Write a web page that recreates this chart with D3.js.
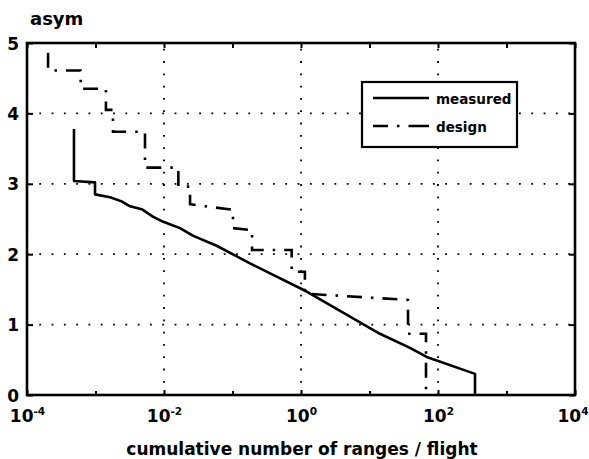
<!DOCTYPE html>
<html>
<head>
<meta charset="utf-8">
<script src="https://cdn.jsdelivr.net/npm/d3@7"></script>
<style>
  html, body { margin: 0; padding: 0; background: #fff; }
  svg { display: block; }
  text { font-family: "DejaVu Sans", sans-serif; font-weight: bold; fill: #000; }
</style>
</head>
<body>
<svg id="chart" width="589" height="459"></svg>
<script>
// Cumulative number of ranges per flight versus asymmetric load level
const xTickExps = [-4, -2, 0, 2, 4];          // labelled decades (10^e)
const xMinorExps = [-3, -1, 1, 3];            // unlabelled decade ticks
const yTicks = [0, 1, 2, 3, 4, 5];
const yGrid = [1, 2, 3, 4];

// measured spectrum (corner points of the trace)
const measuredX = [4.85e-4, 4.85e-4, 9.84e-4, 9.84e-4, 1.63e-3, 2.41e-3, 3.19e-3, 4.72e-3,
                   6.98e-3, 9.77e-3, 0.0171, 0.0268, 0.0587, 0.180, 1.21, 14.2, 39, 68.4, 347, 347];
const measuredY = [3.78, 3.04, 3.02, 2.85, 2.81, 2.75, 2.68, 2.64,
                   2.53, 2.46, 2.37, 2.26, 2.12, 1.87, 1.47, 0.87, 0.67, 0.54, 0.30, 0];

// design spectrum (stepped)
const designX = [2.03e-4, 2.03e-4, 6.08e-4, 6.08e-4, 1.42e-3, 1.42e-3, 1.80e-3, 1.80e-3,
                 5.28e-3, 5.28e-3, 0.0162, 0.0162, 0.024, 0.024, 0.1017, 0.1017, 0.193, 0.193,
                 0.731, 0.731, 1.14, 1.14, 36.5, 36.5, 66.8, 66.8];
const designY = [4.86, 4.61, 4.61, 4.35, 4.35, 4.05, 4.05, 3.74,
                 3.74, 3.23, 3.23, 2.96, 2.96, 2.71, 2.63, 2.37, 2.34, 2.06,
                 2.06, 1.75, 1.75, 1.44, 1.35, 0.87, 0.87, 0];

const legendLabels = ["measured", "design"];

const svg = d3.select("#chart");
const plotL = 27, plotR = 575, plotT = 43, plotB = 395;

const x = d3.scaleLog().domain([1e-4, 1e4]).range([plotL, plotR]);
const y = d3.scaleLinear().domain([0, 5]).range([plotB, plotT]);

// dotted grid
const grid = svg.append("g")
  .attr("stroke", "#000").attr("stroke-width", 1.8)
  .attr("stroke-dasharray", "1.8,10.5").attr("fill", "none");
grid.selectAll("line.gy").data(yGrid).join("line")
  .attr("x1", plotL).attr("x2", plotR)
  .attr("y1", d => y(d)).attr("y2", d => y(d));
grid.selectAll("line.gx").data(xTickExps.slice(1, -1)).join("line")
  .attr("y1", plotB).attr("y2", plotT)
  .attr("x1", d => x(Math.pow(10, d))).attr("x2", d => x(Math.pow(10, d)));

// axes with inward ticks
const allDecades = xTickExps.concat(xMinorExps).map(e => Math.pow(10, e));
const xAxis = d3.axisBottom(x).tickValues(xTickExps.map(e => Math.pow(10, e)))
  .tickSizeInner(-5).tickSizeOuter(0).tickPadding(14)
  .tickFormat(() => "10");
const gx = svg.append("g").attr("transform", `translate(0,${plotB})`).call(xAxis);
gx.select(".domain").remove();
gx.selectAll(".tick line").attr("stroke", "#000").attr("stroke-width", 2);
gx.selectAll(".tick text")
  .attr("font-size", 17).attr("font-family", "DejaVu Sans").attr("font-weight", "bold")
  .attr("dy", null).attr("y", 27)
  .each(function (d, i, nodes) {
    const e = Math.round(Math.log10(d));
    const t = d3.select(this);
    t.append("tspan").attr("dy", -7).attr("font-size", 10.5).text(e);
    // keep the last label inside the page
    if (i === nodes.length - 1) t.attr("text-anchor", "end").attr("x", 13);
  });

svg.append("g").attr("transform", `translate(0,${plotB})`)
  .call(d3.axisBottom(x).tickValues(xMinorExps.map(e => Math.pow(10, e)))
    .tickSizeInner(-4).tickSizeOuter(0).tickFormat(""))
  .call(g => g.select(".domain").remove())
  .selectAll(".tick line").attr("stroke", "#000").attr("stroke-width", 2);

svg.append("g").attr("transform", `translate(0,${plotT})`)
  .call(d3.axisTop(x).tickValues(allDecades).tickSizeInner(-5).tickSizeOuter(0).tickFormat(""))
  .call(g => g.select(".domain").remove())
  .selectAll(".tick line").attr("stroke", "#000").attr("stroke-width", 2);

const gy = svg.append("g").attr("transform", `translate(${plotL},0)`)
  .call(d3.axisLeft(y).tickValues(yTicks).tickSizeInner(-6).tickSizeOuter(0).tickPadding(8)
    .tickFormat(d3.format("d")));
gy.select(".domain").remove();
gy.selectAll(".tick line").attr("stroke", "#000").attr("stroke-width", 2);
gy.selectAll(".tick text")
  .attr("font-size", 17).attr("font-family", "DejaVu Sans").attr("font-weight", "bold")
  .attr("x", -8).attr("dy", "0.36em");

svg.append("g").attr("transform", `translate(${plotR},0)`)
  .call(d3.axisRight(y).tickValues(yTicks).tickSizeInner(-6).tickSizeOuter(0).tickFormat(""))
  .call(g => g.select(".domain").remove())
  .selectAll(".tick line").attr("stroke", "#000").attr("stroke-width", 2);

// curves
const line = d3.line().x(d => x(d[0])).y(d => y(d[1]));
svg.append("path")
  .datum(measuredX.map((v, i) => [v, measuredY[i]]))
  .attr("d", line).attr("fill", "none").attr("stroke", "#000")
  .attr("stroke-width", 2.6).attr("stroke-linejoin", "round");
svg.append("path")
  .datum(designX.map((v, i) => [v, designY[i]]))
  .attr("d", line).attr("fill", "none").attr("stroke", "#000")
  .attr("stroke-width", 2.6).attr("stroke-dasharray", "15,9,2.5,9");

// frame
svg.append("rect")
  .attr("x", plotL).attr("y", plotT).attr("width", plotR - plotL).attr("height", plotB - plotT)
  .attr("fill", "none").attr("stroke", "#000").attr("stroke-width", 2.6);

// legend
const lg = svg.append("g");
lg.append("rect").attr("x", 362).attr("y", 82).attr("width", 155).attr("height", 65)
  .attr("fill", "#fff").attr("stroke", "#000").attr("stroke-width", 2.2);
const legendDash = [null, "15,9,2.5,9,30"];
legendLabels.forEach((lab, i) => {
  const ly = 98 + i * 28;
  lg.append("line").attr("x1", 373).attr("x2", 429).attr("y1", ly).attr("y2", ly)
    .attr("stroke", "#000").attr("stroke-width", 2.4)
    .attr("stroke-dasharray", legendDash[i]);
  lg.append("text").attr("x", 436).attr("y", ly + 5.5)
    .attr("font-size", 13.5).text(lab);
});

// titles
svg.append("text").attr("x", 30).attr("y", 25).attr("font-size", 18).text("asym");
svg.append("text").attr("x", 302).attr("y", 455).attr("text-anchor", "middle")
  .attr("font-size", 17).text("cumulative number of ranges / flight");
</script>
</body>
</html>
